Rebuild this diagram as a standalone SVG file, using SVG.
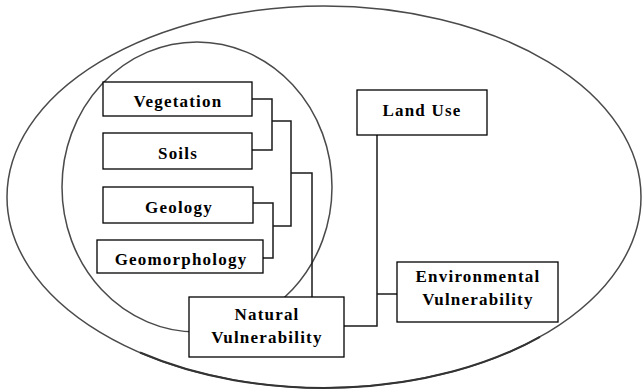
<svg xmlns="http://www.w3.org/2000/svg" width="642" height="392" viewBox="0 0 642 392">
<style>
.ell{fill:none;stroke:#4a4a4a;stroke-width:1.5}
.box{fill:#fff;stroke:#000;stroke-width:1.3}
.lbl{font-family:"Liberation Serif","Times New Roman",serif;font-weight:bold;font-size:17px;letter-spacing:1.2px;text-anchor:middle;fill:#000}
.con{fill:none;stroke:#1a1a1a;stroke-width:1.5}
</style>
<rect width="642" height="392" fill="#fff"/>
<g id="outer-area">
<ellipse class="ell" cx="324" cy="197" rx="317" ry="191"/>
<path d="M140,352.5 A317,191 0 0 0 540,336.8" fill="none" stroke="#333" stroke-width="2"/>
</g>
<g id="natural-area">
<ellipse class="ell" cx="197" cy="187" rx="135" ry="145"/>
</g>
<g id="connectors">
<path class="con" d="M252,99 H272 V150 H252"/>
<path class="con" d="M272,121 H291 V226 H273"/>
<path class="con" d="M253,203 H273 V258 H263"/>
<path class="con" d="M291,173 H312 V297"/>
<path class="con" d="M344,326 H377 V135"/>
<path class="con" d="M377,294 H397"/>
</g>
<g id="vegetation">
<rect class="box" x="103" y="82" width="149" height="34"/>
<text class="lbl" x="178" y="107">Vegetation</text>
</g>
<g id="soils">
<rect class="box" x="103" y="133" width="149" height="36"/>
<text class="lbl" x="178" y="159">Soils</text>
</g>
<g id="geology">
<rect class="box" x="103" y="187" width="150" height="36"/>
<text class="lbl" x="179" y="213">Geology</text>
</g>
<g id="geomorphology">
<rect class="box" x="97" y="240" width="166" height="33"/>
<text class="lbl" x="181" y="265">Geomorphology</text>
</g>
<g id="natural-vulnerability">
<rect class="box" x="189" y="297" width="155" height="60"/>
<text class="lbl" x="267" y="320">Natural</text>
<text class="lbl" x="267" y="343">Vulnerability</text>
</g>
<g id="land-use">
<rect class="box" x="357" y="90" width="130" height="45"/>
<text class="lbl" x="422" y="116">Land Use</text>
</g>
<g id="environmental-vulnerability">
<rect class="box" x="397" y="262" width="161" height="60"/>
<text class="lbl" x="478" y="282">Environmental</text>
<text class="lbl" x="478" y="305">Vulnerability</text>
</g>
</svg>
